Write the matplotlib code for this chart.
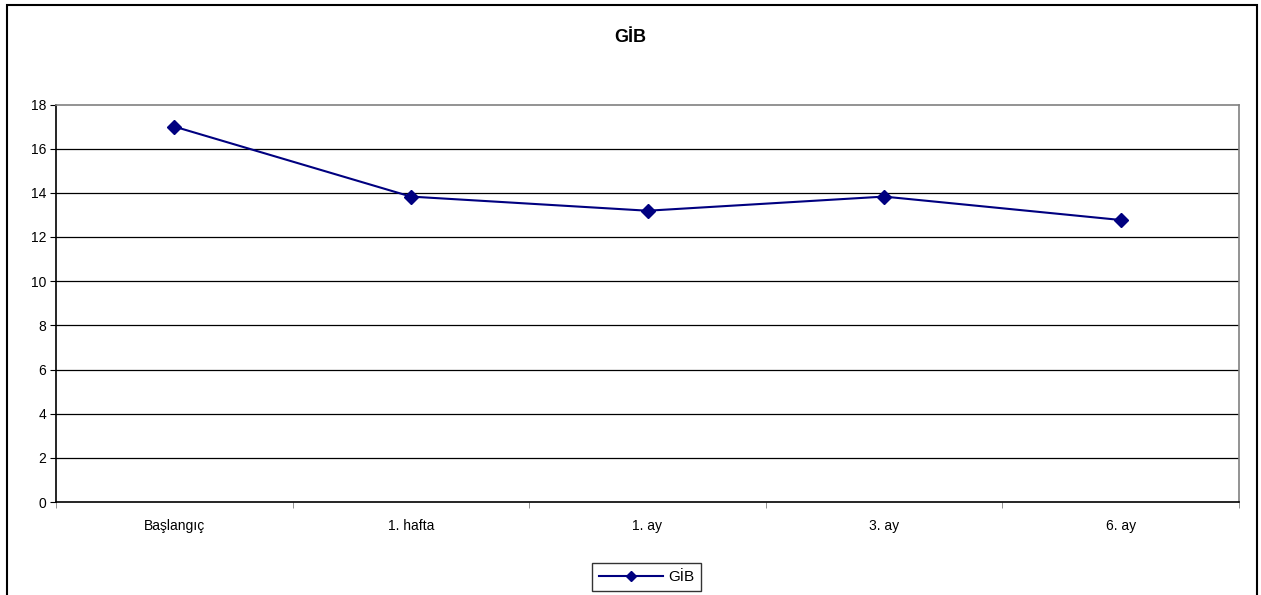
import matplotlib
matplotlib.use('Agg')
from matplotlib import pyplot as plt
from matplotlib.patches import Rectangle

plt.rcParams['font.family'] = ['Liberation Sans', 'DejaVu Sans']

# data
categories = ['Başlangıç', '1. hafta', '1. ay', '3. ay', '6. ay']
gib = [17.0, 13.83, 13.19, 13.83, 12.77]
series_name = 'GİB'
y_ticks = [0, 2, 4, 6, 8, 10, 12, 14, 16, 18]

fig = plt.figure(figsize=(12.61, 5.95), dpi=100)
ax = fig.add_axes([56 / 1261, 1 - 502 / 595, (1239 - 56) / 1261, (502 - 104.5) / 595])

x = list(range(len(categories)))
ax.plot(x, gib, color='#000080', linewidth=1.5, marker='D', markersize=7,
        markerfacecolor='#000080', markeredgecolor='#000080', label=series_name)

ax.set_xlim(-0.5, len(categories) - 0.5)
ax.set_ylim(0, 18)
ax.set_yticks(y_ticks)
ax.set_yticklabels([str(v) for v in y_ticks], fontsize=10)
for v in y_ticks[1:-1]:
    ax.axhline(v, color='black', linewidth=0.9, zorder=0)

ax.set_xticks(x)
ax.set_xticklabels(categories, fontsize=10)
ax.tick_params(axis='x', which='major', length=0, pad=12)
ax.set_xticks([i - 0.5 for i in range(len(categories) + 1)], minor=True)
ax.tick_params(axis='x', which='minor', length=4, direction='out', color='gray')
ax.tick_params(axis='y', length=4, direction='out', pad=3, colors='black')

for side in ['top', 'right']:
    ax.spines[side].set_color('gray')
    ax.spines[side].set_linewidth(1.2)
ax.spines['left'].set_color('black')
ax.spines['bottom'].set_color('black')
ax.spines['left'].set_linewidth(1.2)
ax.spines['bottom'].set_linewidth(1.2)

fig.text(0.5, 1 - 37 / 595, series_name, ha='center', va='center',
         fontsize=13, fontweight='bold')

leg = fig.legend(loc='center', bbox_to_anchor=((597 + 696) / 2 / 1261, 1 - 577 / 595),
                 fontsize=11, frameon=True, fancybox=False, handlelength=4.2,
                 borderpad=0.45, handletextpad=0.3, markerscale=0.8)
leg.get_frame().set_edgecolor('black')
leg.get_frame().set_linewidth(1.0)

# chart border
fig.patches.append(Rectangle((7 / 1261, -0.02), (1257 - 7) / 1261, 1.02 - 5 / 595,
                             transform=fig.transFigure, fill=False,
                             edgecolor='black', linewidth=1.5))

fig.savefig('out.png', dpi=100)
